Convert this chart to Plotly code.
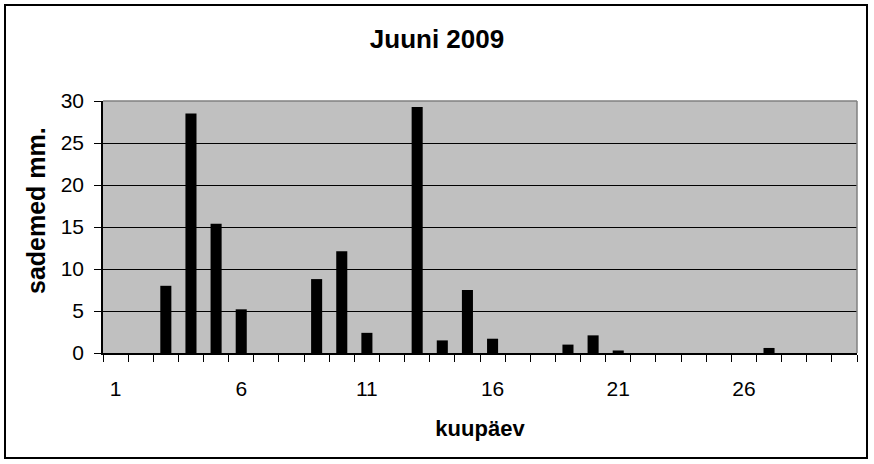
import plotly.graph_objects as go

days = list(range(1, 31))
rain = [0, 0, 8.0, 28.5, 15.4, 5.2, 0, 0, 8.8, 12.1,
        2.4, 0, 29.3, 1.5, 7.5, 1.7, 0, 0, 1.0, 2.1,
        0.3, 0, 0, 0, 0, 0, 0.6, 0, 0, 0]
x_tick_vals = [1, 6, 11, 16, 21, 26]
x_tick_text = ["1", "6", "11", "16", "21", "26"]
y_tick_vals = [0, 5, 10, 15, 20, 25, 30]

FONT = "Liberation Sans, Arial, sans-serif"
L, R, T, B = 103, 17, 101, 111
W, H = 874, 464
pw, ph = W - L - R, H - T - B

fig = go.Figure()
fig.add_trace(go.Bar(x=days, y=rain, marker=dict(color="black", line=dict(width=0))))

fig.update_layout(
    width=W, height=H,
    margin=dict(l=L, r=R, t=T, b=B),
    paper_bgcolor="white",
    plot_bgcolor="#C0C0C0",
    bargap=0.56,
    showlegend=False,
    font=dict(family=FONT, color="black"),
    title=dict(text="Juuni 2009", x=0.5, xanchor="center", xref="container",
               y=1 - 39 / H, yanchor="middle", yref="container",
               font=dict(family=FONT, size=26, weight="bold", color="black")),
)

fig.update_xaxes(
    range=[0.5, 30.5],
    tickmode="array", tickvals=x_tick_vals, ticktext=x_tick_text,
    ticks="", ticklabelstandoff=16,
    tickfont=dict(family=FONT, size=21, color="black"),
    showgrid=False, zeroline=False,
    showline=True, linecolor="black", linewidth=1.5,
    minor=dict(tickmode="linear", tick0=0.5, dtick=1, ticks="outside",
               ticklen=7, tickcolor="black", tickwidth=1, showgrid=False),
    title=dict(text="kuupäev", standoff=22,
               font=dict(family=FONT, size=22, weight="bold", color="black")),
)

fig.update_yaxes(
    range=[0, 30],
    tickmode="array", tickvals=y_tick_vals,
    ticks="outside", ticklen=7, tickcolor="black", tickwidth=1,
    ticklabelstandoff=6,
    tickfont=dict(family=FONT, size=21, color="black"),
    showgrid=True, gridcolor="black", gridwidth=1,
    zeroline=False,
    showline=True, linecolor="black", linewidth=1.5,
)

# y-axis title placed as in the reference (slightly above centre)
fig.add_annotation(text="<b>sademed mm.</b>", textangle=-90,
                   xref="paper", yref="paper",
                   x=(36 - L) / pw, y=(H - B - 211) / ph,
                   xanchor="center", yanchor="middle", showarrow=False,
                   font=dict(family=FONT, size=25, color="black"))

# plot-area border (grey top and right edges)
fig.add_shape(type="line", xref="paper", yref="paper", x0=0, x1=1, y0=1, y1=1,
              line=dict(color="#808080", width=1.5), layer="above")
fig.add_shape(type="line", xref="paper", yref="paper", x0=1, x1=1, y0=0, y1=1,
              line=dict(color="#808080", width=1.5), layer="above")

# outer chart border
fig.add_shape(type="rect", xref="paper", yref="paper",
              x0=(5 - L) / pw, x1=(867 - L) / pw,
              y0=(H - B - 458) / ph, y1=(H - B - 5) / ph,
              line=dict(color="black", width=2), fillcolor="rgba(0,0,0,0)", layer="above")

fig.write_html("out.html", config={"displayModeBar": False},
               post_script="document.body.style.margin='0';document.body.style.overflow='hidden';")
